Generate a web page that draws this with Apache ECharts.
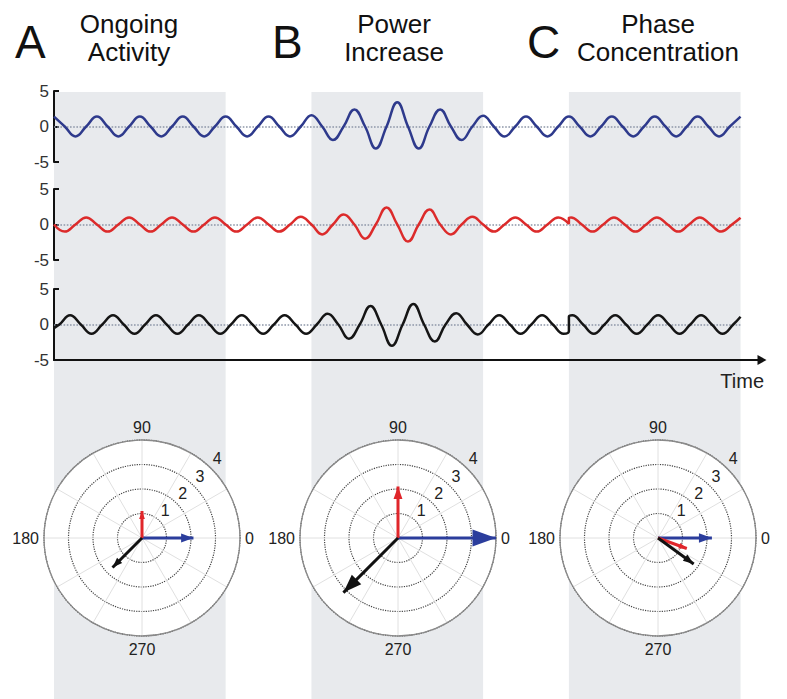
<!DOCTYPE html>
<html><head><meta charset="utf-8">
<script src="https://cdn.jsdelivr.net/npm/echarts@6/dist/echarts.min.js"></script>
<style>html,body{margin:0;padding:0;background:#fff}#c{width:787px;height:699px}</style>
</head><body><div id="c"></div>
<script>
// ---- data ----
const bandStarts = [0, 6, 12];
const bandEnds = [4, 10, 16];
const yTicks = [-5, 0, 5];
const bluePoints = [
[0,1.4],[0.25,0],[0.5,-1.4],[0.75,0],
[1,1.4],[1.25,0],[1.5,-1.4],[1.75,0],
[2,1.4],[2.25,0],[2.5,-1.4],[2.75,0],
[3,1.4],[3.25,0],[3.5,-1.4],[3.75,0],
[4,1.4],[4.25,0],[4.5,-1.4],[4.75,0],
[5,1.4],[5.25,0],[5.5,-1.4],[5.75,0],
[6,1.6],[6.25,0],[6.5,-1.9],[6.75,0],
[7,2.4],[7.25,0],[7.5,-3.1],[7.75,0],
[8,3.4],[8.25,0],[8.5,-3.1],[8.75,0],
[9,2.4],[9.25,0],[9.5,-1.9],[9.75,0],
[10,1.5],[10.25,0],[10.5,-1.4],[10.75,0],
[11,1.4],[11.25,0],[11.5,-1.4],[11.75,0],
[12,1.4],[12.25,0],[12.5,-1.4],[12.75,0],
[13,1.4],[13.25,0],[13.5,-1.4],[13.75,0],
[14,1.4],[14.25,0],[14.5,-1.4],[14.75,0],
[15,1.4],[15.25,0],[15.5,-1.4],[15.75,0],
[16,1.4]];
const redPoints = [
[0,0],[0.25,-1.0],[0.5,0],[0.75,1.0],
[1,0],[1.25,-1.0],[1.5,0],[1.75,1.0],
[2,0],[2.25,-1.0],[2.5,0],[2.75,1.0],
[3,0],[3.25,-1.0],[3.5,0],[3.75,1.0],
[4,0],[4.25,-1.0],[4.5,0],[4.75,1.0],
[5,0],[5.25,-1.0],[5.5,0],[5.75,1.1],
[6,0],[6.25,-1.4],[6.5,0],[6.75,1.4],
[7,0],[7.25,-2.0],[7.5,0],[7.75,2.4],
[8,0],[8.25,-2.4],[8.5,0],[8.75,2.1],
[9,0],[9.25,-1.4],[9.5,0],[9.75,1.1],
[10,0],[10.25,-1.0],[10.5,0],[10.75,1.0],
[11,0],[11.25,-1.0],[11.5,0],[11.75,1.0],
[12,0.1],[12,0.95],[12.05,1.0],[12.3,0],[12.55,-1.0],[12.8,0],
[13.05,1.0],[13.3,0],[13.55,-1.0],[13.8,0],
[14.05,1.0],[14.3,0],[14.55,-1.0],[14.8,0],
[15.05,1.0],[15.3,0],[15.55,-1.0],[15.8,0],
[16,0.95]];
const blackPoints = [
[0,-0.5],[0.125,0],[0.375,1.3],[0.625,0],[0.875,-1.3],
[1.125,0],[1.375,1.3],[1.625,0],[1.875,-1.3],
[2.125,0],[2.375,1.3],[2.625,0],[2.875,-1.3],
[3.125,0],[3.375,1.3],[3.625,0],[3.875,-1.3],
[4.125,0],[4.375,1.3],[4.625,0],[4.875,-1.3],
[5.125,0],[5.375,1.3],[5.625,0],[5.875,-1.3],
[6.125,0],[6.375,1.5],[6.625,0],[6.875,-2.0],
[7.125,0],[7.375,2.6],[7.625,0],[7.875,-3.0],
[8.125,0],[8.375,2.9],[8.625,0],[8.875,-2.4],
[9.125,0],[9.375,1.6],[9.625,0],[9.875,-1.4],
[10.125,0],[10.375,1.3],[10.625,0],[10.875,-1.3],
[11.125,0],[11.375,1.3],[11.625,0],[11.875,-1.3],
[12,-0.9],[12,1.1],[12.08,1.3],[12.33,0],[12.58,-1.3],[12.83,0],
[13.08,1.3],[13.33,0],[13.58,-1.3],[13.83,0],
[14.08,1.3],[14.33,0],[14.58,-1.3],[14.83,0],
[15.08,1.3],[15.33,0],[15.58,-1.3],[15.83,0],
[16,1.1]];
const angleTicks = [0, 90, 180, 270];
const radialTicks = [1, 2, 3, 4];
const arrowLengthsA = [2.1, 1.1, 1.7];
const arrowAnglesA = [0, 90, 225];
const arrowLengthsB = [4.0, 2.1, 3.15];
const arrowAnglesB = [0, 90, 225];
const arrowLengthsC = [2.2, 1.25, 1.8];
const arrowAnglesC = [0, 340, 324];
const panelLetters = ['A', 'B', 'C'];
const panelTitles = [['Ongoing', 'Activity'], ['Power', 'Increase'], ['Phase', 'Concentration']];

// ---- layout / style ----
const FONT = "'Liberation Sans', Arial, sans-serif";
const gridLeft = 54, gridWidth = 708, xMax = 16.5;
const panelTops = [91, 189, 289], panelH = 71;
const lineColors = ['#2e3a8c', '#dc2b2b', '#151515'];
const arrowColors = ['#2b3d9c', '#e0262b', '#111111'];
const polarCenters = [[142, 538], [398, 538], [658, 538]];
const polarRadius = 98, rMax = 4;
const letterX = [15, 272, 527];
const titleCX = [129, 394, 658];

const chart = echarts.init(document.getElementById('c'), null, {renderer: 'svg'});

const grids = [{left: gridLeft, top: 92, width: gridWidth, height: 607}];
panelTops.forEach(t => grids.push({left: gridLeft, top: t, width: gridWidth, height: panelH}));

const xAxes = grids.map((g, i) => ({
  gridIndex: i, type: 'value', min: 0, max: xMax, show: i === 3, z: 3,
  axisLine: {onZero: false, lineStyle: {color: '#111', width: 2}, symbol: ['none', 'triangle'], symbolSize: [10, 9]},
  axisTick: {show: false}, axisLabel: {show: false}, splitLine: {show: false},
  name: i === 3 ? 'Time' : '', nameLocation: 'end', nameGap: 2,
  nameTextStyle: {align: 'right', verticalAlign: 'top', padding: [11, 0, 0, 0], fontSize: 20, color: '#222', fontFamily: FONT}
}));
const yAxes = grids.map((g, i) => i === 0 ? {gridIndex: 0, type: 'value', min: 0, max: 1, show: false} : ({
  gridIndex: i, type: 'value', min: yTicks[0], max: yTicks[yTicks.length - 1], interval: yTicks[1] - yTicks[0], z: 3,
  axisLine: {show: true, lineStyle: {color: '#111', width: 2}},
  axisTick: {show: true, inside: true, length: 5, lineStyle: {color: '#111', width: 2}},
  axisLabel: {fontSize: 17, color: '#333', margin: 5, fontFamily: FONT},
  splitLine: {show: false}
}));

const series = [];
series.push({
  type: 'line', xAxisIndex: 0, yAxisIndex: 0, data: [[0, 0]], symbol: 'none',
  lineStyle: {opacity: 0}, z: 0, silent: true,
  markArea: {silent: true, z: 0, itemStyle: {color: '#e8eaed', opacity: 1},
    data: bandStarts.map((s, i) => [{xAxis: s}, {xAxis: bandEnds[i]}])}
});
[bluePoints, redPoints, blackPoints].forEach((pts, i) => {
  series.push({
    type: 'line', xAxisIndex: i + 1, yAxisIndex: i + 1, data: pts, smooth: 0.45,
    symbol: 'none', lineStyle: {color: lineColors[i], width: 2.5}, z: 5, animation: false,
    markLine: {silent: true, symbol: ['none', 'none'], label: {show: false},
      lineStyle: {type: 'dotted', color: '#8d96a8', width: 1.6},
      data: [[{coord: [bandStarts[0], 0]}, {coord: [bandEnds[bandEnds.length - 1], 0]}]]}
  });
});

// polar 0..2: white discs (back); polar 3..5: axes + arrows (front)
const polars = polarCenters.map(c => ({center: c, radius: polarRadius}))
  .concat(polarCenters.map(c => ({center: c, radius: polarRadius})));
const angleAxes = polars.map((p, i) => i < 3 ? ({
  polarIndex: i, type: 'value', min: 0, max: 360, startAngle: 0, clockwise: false, z: 2,
  axisLine: {show: false}, axisTick: {show: false}, axisLabel: {show: false}, splitLine: {show: false}
}) : ({
  polarIndex: i, type: 'value', min: 0, max: 360, interval: 30, startAngle: 0, clockwise: false, z: 3,
  axisLine: {lineStyle: {color: '#8a8a8a', width: 1.3}},
  axisTick: {show: false},
  axisLabel: {formatter: v => angleTicks.includes(v) ? String(v) : '', fontSize: 16, color: '#222', margin: 5, fontFamily: FONT},
  splitLine: {lineStyle: {color: '#e0e0e0', width: 1}}
}));
const radiusAxes = polars.map((p, i) => i < 3 ? ({
  polarIndex: i, type: 'value', min: 0, max: rMax, interval: 1, z: 2,
  axisLine: {show: false}, axisTick: {show: false}, axisLabel: {show: false}, splitLine: {show: false},
  splitArea: {show: true, areaStyle: {color: ['#ffffff']}}
}) : ({
  polarIndex: i, type: 'value', min: 0, max: rMax, interval: 1, z: 3,
  axisLine: {show: false}, axisTick: {show: false}, axisLabel: {show: false},
  splitLine: {lineStyle: {type: 'dotted', color: '#444', width: 1.2}},
  splitArea: {show: false}
}));

const pxPerUnit = polarRadius / rMax;
[[arrowLengthsA, arrowAnglesA], [arrowLengthsB, arrowAnglesB], [arrowLengthsC, arrowAnglesC]].forEach(([lens, angs], k) => {
  const p = k + 3;
  lens.forEach((r, j) => {
    const th = angs[j];
    const L = r * pxPerUnit;
    const h = Math.max(8, 0.24 * L), w = 0.72 * h;
    const rad = th * Math.PI / 180;
    series.push({
      type: 'line', coordinateSystem: 'polar', polarIndex: p, animation: false, z: 6,
      lineStyle: {color: arrowColors[j], width: 3}, itemStyle: {color: arrowColors[j]},
      symbol: 'none', showSymbol: true,
      data: [
        {value: [0, th], symbol: 'none'},
        {value: [r, th], symbol: 'triangle', symbolSize: [w, h], symbolRotate: th - 90,
          symbolOffset: [-(h / 2) * Math.cos(rad), (h / 2) * Math.sin(rad)]}
      ]
    });
  });
  series.push({
    type: 'scatter', coordinateSystem: 'polar', polarIndex: p, symbolSize: 0, z: 6, silent: true,
    itemStyle: {color: '#222222', opacity: 0},
    data: radialTicks.map(v => [v, 45]),
    label: {show: true, position: [6, -10], align: 'center', verticalAlign: 'middle',
      formatter: q => String(q.value[0]), fontSize: 16, color: '#222', fontFamily: FONT,
      textBorderWidth: 0, textBorderColor: 'transparent', opacity: 1}
  });
});

const graphics = [];
panelLetters.forEach((L, i) => {
  graphics.push({type: 'text', x: letterX[i], y: 42, style: {text: L, font: '46px ' + FONT, fill: '#111', textAlign: 'left', textVerticalAlign: 'middle'}});
  graphics.push({type: 'text', x: titleCX[i], y: 24, style: {text: panelTitles[i][0], font: '26px ' + FONT, fill: '#111', textAlign: 'center', textVerticalAlign: 'middle'}});
  graphics.push({type: 'text', x: titleCX[i], y: 52, style: {text: panelTitles[i][1], font: '26px ' + FONT, fill: '#111', textAlign: 'center', textVerticalAlign: 'middle'}});
});

chart.setOption({
  animation: false,
  backgroundColor: '#ffffff',
  grid: grids, xAxis: xAxes, yAxis: yAxes,
  polar: polars, angleAxis: angleAxes, radiusAxis: radiusAxes,
  series: series, graphic: graphics
});
</script></body></html>
